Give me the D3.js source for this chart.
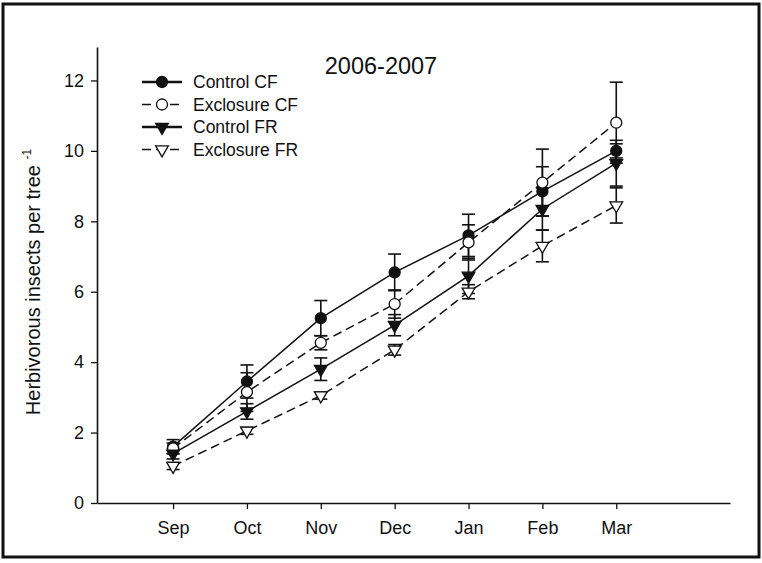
<!DOCTYPE html>
<html>
<head>
<meta charset="utf-8">
<script src="https://cdn.jsdelivr.net/npm/d3@7"></script>
<style>
  body { margin: 0; background: #fff; }
  svg { display: block; font-family: "Liberation Sans", Arial, sans-serif; }
</style>
</head>
<body>
<div class="chart-container"></div>
<script>
// months on the x axis
var months = ["Sep", "Oct", "Nov", "Dec", "Jan", "Feb", "Mar"];
var yTicks = [0, 2, 4, 6, 8, 10, 12];

// means per tree
var controlCF   = [1.6, 3.45, 5.25, 6.55, 7.6, 8.85, 10.0];
var exclosureCF = [1.55, 3.15, 4.55, 5.65, 7.4, 9.1, 10.8];
var controlFR   = [1.4, 2.6, 3.8, 5.05, 6.45, 8.35, 9.65];
var exclosureFR = [1.05, 2.05, 3.05, 4.35, 6.0, 7.3, 8.45];

// standard errors
var controlCF_se   = [0.2, 0.47, 0.5, 0.52, 0.6, 0.7, 0.2];
var exclosureCF_se = [0.15, 0.55, 0.2, 0.4, 0.5, 0.95, 1.15];
var controlFR_se   = [0.15, 0.22, 0.32, 0.3, 0.5, 0.6, 0.65];
var exclosureFR_se = [0.1, 0.1, 0.1, 0.15, 0.2, 0.45, 0.5];

var seriesNames = ["Control CF", "Exclosure CF", "Control FR", "Exclosure FR"];

document.addEventListener("DOMContentLoaded", function () {
    var w = 762, h = 563;

    var series = [
        { name: seriesNames[0], values: controlCF,   se: controlCF_se,   shape: "circle",   fill: "#111", dash: null },
        { name: seriesNames[1], values: exclosureCF, se: exclosureCF_se, shape: "circle",   fill: "#fff", dash: "9,5" },
        { name: seriesNames[2], values: controlFR,   se: controlFR_se,   shape: "triangle", fill: "#111", dash: null },
        { name: seriesNames[3], values: exclosureFR, se: exclosureFR_se, shape: "triangle", fill: "#fff", dash: "9,5" }
    ];

    var svg = d3.select(".chart-container")
        .append("svg")
        .attr("width", w)
        .attr("height", h);

    // scanned page frame
    svg.append("rect")
        .attr("x", 3).attr("y", 4)
        .attr("width", 756).attr("height", 553)
        .attr("fill", "none")
        .attr("stroke", "#111")
        .attr("stroke-width", 3);

    var x = d3.scaleLinear().domain([-1.03, 7.54]).range([97, 730]);
    var y = d3.scaleLinear().domain([0, 12.95]).range([503, 47]);

    //Axes
    var xAxis = d3.axisBottom(x)
        .tickValues(d3.range(months.length))
        .tickFormat(function (d) { return months[d]; })
        .tickSizeInner(6).tickSizeOuter(0).tickPadding(12);
    var yAxis = d3.axisLeft(y)
        .tickValues(yTicks)
        .tickSizeInner(6).tickSizeOuter(0).tickPadding(7);

    var gx = svg.append("g").attr("transform", "translate(0," + y(0) + ")").call(xAxis);
    var gy = svg.append("g").attr("transform", "translate(" + x(-1.03) + ",0)").call(yAxis);

    [gx, gy].forEach(function (g) {
        g.select(".domain").attr("stroke", "#111").attr("stroke-width", 1.6);
        g.selectAll(".tick line").attr("stroke", "#111").attr("stroke-width", 1.3);
        g.selectAll(".tick text")
            .attr("fill", "#111")
            .style("font-size", "18px")
            .style("font-family", "'Liberation Sans', Arial, sans-serif");
    });

    // y label with superscript
    var ylab = svg.append("text")
        .attr("transform", "translate(40,282) rotate(-90)")
        .attr("text-anchor", "middle")
        .attr("fill", "#111")
        .style("font-size", "20px");
    ylab.append("tspan").text("Herbivorous insects per tree ");
    ylab.append("tspan").attr("dy", -9).style("font-size", "12px").text("-1");

    // title
    svg.append("text")
        .attr("x", 381).attr("y", 74)
        .attr("text-anchor", "middle")
        .attr("fill", "#111")
        .style("font-size", "23.5px")
        .text("2006-2007");

    var line = d3.line()
        .x(function (d, i) { return x(i); })
        .y(function (d) { return y(d); });

    function drawMarker(g, s, cx, cy) {
        if (s.shape === "circle") {
            g.append("circle")
                .attr("cx", cx).attr("cy", cy).attr("r", 5.5)
                .attr("fill", s.fill).attr("stroke", "#111").attr("stroke-width", 1.3);
        } else {
            g.append("path")
                .attr("d", d3.symbol(d3.symbolTriangle, 70)())
                .attr("transform", "translate(" + cx + "," + cy + ") rotate(180)")
                .attr("fill", s.fill).attr("stroke", "#111").attr("stroke-width", 1.3);
        }
    }

    // error bars
    series.forEach(function (s) {
        var g = svg.append("g").attr("stroke", "#111").attr("stroke-width", 1.6);
        s.values.forEach(function (v, i) {
            var lo = y(v - s.se[i]), hi = y(v + s.se[i]), cx = x(i);
            g.append("line").attr("x1", cx).attr("x2", cx).attr("y1", lo).attr("y2", hi);
            g.append("line").attr("x1", cx - 6.5).attr("x2", cx + 6.5).attr("y1", lo).attr("y2", lo);
            g.append("line").attr("x1", cx - 6.5).attr("x2", cx + 6.5).attr("y1", hi).attr("y2", hi);
        });
    });

    // lines
    series.forEach(function (s) {
        svg.append("path")
            .datum(s.values)
            .attr("d", line)
            .attr("fill", "none")
            .attr("stroke", "#111")
            .attr("stroke-width", 1.5)
            .attr("stroke-dasharray", s.dash);
    });

    // markers
    series.forEach(function (s) {
        var g = svg.append("g");
        s.values.forEach(function (v, i) {
            drawMarker(g, s, x(i), y(v));
        });
    });

    // legend
    var legendY = [82, 104.5, 127, 149.5];
    series.forEach(function (s, i) {
        var g = svg.append("g").attr("transform", "translate(0," + legendY[i] + ")");
        g.append("line")
            .attr("x1", 142).attr("x2", 182)
            .attr("stroke", "#111").attr("stroke-width", s.dash ? 1.6 : 2.4)
            .attr("stroke-dasharray", s.dash);
        drawMarker(g, s, 162, 0);
        g.append("text")
            .attr("x", 193).attr("y", 6)
            .attr("fill", "#111")
            .style("font-size", "17.5px")
            .text(s.name);
    });
});
</script>
</body>
</html>
